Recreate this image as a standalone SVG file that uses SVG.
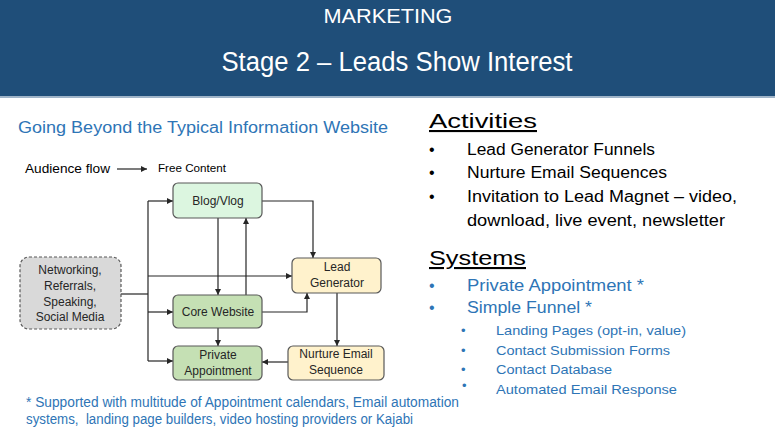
<svg xmlns="http://www.w3.org/2000/svg" width="775" height="434" viewBox="0 0 775 434">
<defs>
<marker id="ah" markerUnits="userSpaceOnUse" markerWidth="7" markerHeight="7" refX="6" refY="3" orient="auto">
<path d="M0,0 L6,3 L0,6 z" fill="#262626"/>
</marker>
<style>
text{font-family:"Liberation Sans",Arial,sans-serif}
.hd{fill:#ffffff;text-anchor:middle}
.blk{fill:#000000}
.blu{fill:#2e75b6}
.nt{font-size:12px;fill:#262626;text-anchor:middle}
.box{stroke:#595959;stroke-width:1.2}
.c{fill:none;stroke:#262626;stroke-width:1.2}
.ca{fill:none;stroke:#262626;stroke-width:1.2;marker-end:url(#ah)}
</style>
</defs>
<rect width="775" height="434" fill="#ffffff"/>
<rect x="0" y="0" width="775" height="96" fill="#1f4e79"/>
<rect x="0" y="96" width="775" height="2" fill="#9fb4c8"/>
<text class="hd" x="388" y="23" font-size="20" textLength="129" lengthAdjust="spacingAndGlyphs">MARKETING</text>
<text class="hd" x="397" y="71" font-size="27" textLength="351" lengthAdjust="spacingAndGlyphs">Stage 2 – Leads Show Interest</text>

<text class="blu" x="18" y="133" font-size="16" textLength="370" lengthAdjust="spacingAndGlyphs">Going Beyond the Typical Information Website</text>

<g id="legend">
<text class="blk" x="25" y="173" font-size="13.5" textLength="85" lengthAdjust="spacingAndGlyphs">Audience flow</text>
<path class="ca" d="M117,169 H147"/>
<text class="blk" x="158" y="172" font-size="11.5" textLength="68" lengthAdjust="spacingAndGlyphs">Free Content</text>
</g>

<g id="connectors">
<path class="c" d="M121,294 H148"/>
<path class="c" d="M148,201 V361"/>
<path class="ca" d="M148,201 H173"/>
<path class="ca" d="M148,276 H292"/>
<path class="ca" d="M148,312 H173"/>
<path class="ca" d="M148,361 H173"/>
<path class="ca" d="M262,201 H313 V258"/>
<path class="ca" d="M218,218 V295"/>
<path class="ca" d="M246,295 V218"/>
<path class="ca" d="M262,312 H307 V293"/>
<path class="ca" d="M218,328 V346"/>
<path class="ca" d="M337,293 V346"/>
<path class="ca" d="M288,362 H262"/>
</g>

<g id="networking">
<rect x="20" y="257" width="101" height="72" rx="9" fill="#d9d9d9" stroke="#595959" stroke-width="1.2" stroke-dasharray="3,2"/>
<text class="nt" x="70" y="274">Networking,</text>
<text class="nt" x="70" y="290">Referrals,</text>
<text class="nt" x="70" y="306">Speaking,</text>
<text class="nt" x="70" y="321">Social Media</text>
</g>
<g id="blog">
<rect class="box" x="173" y="183" width="89" height="35" rx="5" fill="#dcf6e0"/>
<text class="nt" x="218" y="205">Blog/Vlog</text>
</g>
<g id="core">
<rect class="box" x="173" y="295" width="89" height="33" rx="5" fill="#c5e0b4"/>
<text class="nt" x="218" y="316">Core Website</text>
</g>
<g id="private">
<rect class="box" x="173" y="346" width="89" height="34" rx="5" fill="#c5e0b4"/>
<text class="nt" x="218" y="359">Private</text>
<text class="nt" x="218" y="375">Appointment</text>
</g>
<g id="leadgen">
<rect class="box" x="292" y="258" width="89" height="35" rx="5" fill="#fff2cc"/>
<text class="nt" x="337" y="271">Lead</text>
<text class="nt" x="337" y="287">Generator</text>
</g>
<g id="nurture">
<rect class="box" x="288" y="346" width="96" height="34" rx="5" fill="#fff2cc"/>
<text class="nt" x="336" y="358">Nurture Email</text>
<text class="nt" x="336" y="374">Sequence</text>
</g>

<g id="activities">
<text class="blk" x="429" y="128" font-size="21" text-decoration="underline" textLength="108" lengthAdjust="spacingAndGlyphs">Activities</text>
<text class="blk" x="429" y="155" font-size="16">•</text>
<text class="blk" x="467" y="155" font-size="16" textLength="188" lengthAdjust="spacingAndGlyphs">Lead Generator Funnels</text>
<text class="blk" x="429" y="178" font-size="16">•</text>
<text class="blk" x="467" y="178" font-size="16" textLength="200" lengthAdjust="spacingAndGlyphs">Nurture Email Sequences</text>
<text class="blk" x="429" y="202" font-size="16">•</text>
<text class="blk" x="467" y="202" font-size="16" textLength="270" lengthAdjust="spacingAndGlyphs">Invitation to Lead Magnet – video,</text>
<text class="blk" x="467" y="226" font-size="16" textLength="258" lengthAdjust="spacingAndGlyphs">download, live event, newsletter</text>
</g>

<g id="systems">
<text class="blk" x="429" y="265" font-size="21" text-decoration="underline" textLength="97" lengthAdjust="spacingAndGlyphs">Systems</text>
<text class="blu" x="429" y="291" font-size="16">•</text>
<text class="blu" x="467" y="291" font-size="16" textLength="177" lengthAdjust="spacingAndGlyphs">Private Appointment *</text>
<text class="blu" x="429" y="313" font-size="16">•</text>
<text class="blu" x="467" y="313" font-size="16" textLength="125" lengthAdjust="spacingAndGlyphs">Simple Funnel *</text>
<text class="blu" x="461" y="335" font-size="13">•</text>
<text class="blu" x="496" y="335" font-size="13" textLength="190" lengthAdjust="spacingAndGlyphs">Landing Pages (opt-in, value)</text>
<text class="blu" x="461" y="355" font-size="13">•</text>
<text class="blu" x="496" y="355" font-size="13" textLength="174" lengthAdjust="spacingAndGlyphs">Contact Submission Forms</text>
<text class="blu" x="461" y="374" font-size="13">•</text>
<text class="blu" x="496" y="374" font-size="13" textLength="116" lengthAdjust="spacingAndGlyphs">Contact Database</text>
<text class="blu" x="462" y="390" font-size="13">•</text>
<text class="blu" x="496" y="394" font-size="13" textLength="181" lengthAdjust="spacingAndGlyphs">Automated Email Response</text>
</g>

<g id="footnote">
<text class="blu" x="26" y="407" font-size="14" textLength="433" lengthAdjust="spacingAndGlyphs">* Supported with multitude of Appointment calendars, Email automation</text>
<text class="blu" x="26" y="424" font-size="14" textLength="387" lengthAdjust="spacingAndGlyphs" xml:space="preserve">systems,  landing page builders, video hosting providers or Kajabi</text>
</g>
</svg>
